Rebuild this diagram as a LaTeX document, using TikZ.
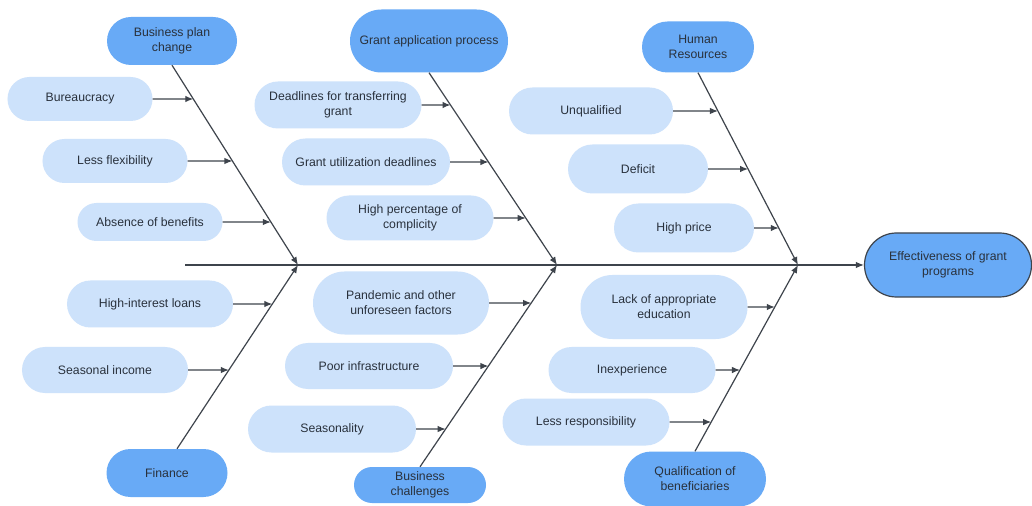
\documentclass[tikz,border=0pt]{standalone}
\usepackage{fontspec}
\setmainfont{Liberation Sans}
\usetikzlibrary{shapes.misc,arrows.meta}
\definecolor{mainblue}{HTML}{68AAF6}
\definecolor{lightblue}{HTML}{CDE2FB}
\definecolor{txt}{HTML}{29313C}
\definecolor{ln}{HTML}{3E444C}
\tikzset{
  pill/.style n args={2}{rounded rectangle, minimum width=#1bp, minimum height=#2bp,
    inner sep=0pt, align=center, text=txt, font=\fontsize{12.3}{15}\selectfont},
  catbox/.style={fill=mainblue},
  causebox/.style={fill=lightblue},
  bone/.style={draw=ln, line width=1.2bp, -{Latex[length=8bp,width=6.5bp]}},
}
\newcommand\twig[3]{\draw[bone] (#1.east) -- (intersection cs: first line={(#1.east)--([xshift=10]#1.east)}, second line={(#2)--(#3)});}
\begin{document}
\begin{tikzpicture}[x=1bp,y=-1bp]
\fill[white] (0,0) rectangle (1032,506);
\useasboundingbox (0,0) rectangle (1032,506);
% categories
\node[pill={130}{48},catbox] (bpc) at (172,41) {Business plan\\change};
\node[pill={158}{63},catbox] (gap) at (429,41) {Grant application process};
\node[pill={112}{51},catbox] (hr) at (698,47) {Human\\Resources};
\node[pill={121}{48},catbox] (fin) at (167,473) {Finance};
\node[pill={132}{36},catbox] (bch) at (420,485) {Business\\challenges};
\node[pill={142}{55},catbox] (qb) at (695,479) {Qualification of\\beneficiaries};
\node[pill={167}{64},catbox,draw=ln,line width=1.2bp] (eff) at (948,265) {Effectiveness of grant\\programs};
% causes
\node[pill={145}{44},causebox] (bur) at (80,99) {Bureaucracy};
\node[pill={145}{44},causebox] (lf) at (115,161) {Less flexibility};
\node[pill={145}{38},causebox] (ab) at (150,222) {Absence of benefits};
\node[pill={166}{47},causebox] (hil) at (150,304) {High-interest loans};
\node[pill={166}{46},causebox] (si) at (105,370) {Seasonal income};
\node[pill={167}{47},causebox] (dft) at (338,105) {Deadlines for transferring\\grant};
\node[pill={168}{47},causebox] (gud) at (366,162) {Grant utilization deadlines};
\node[pill={167}{45},causebox] (hpc) at (410,218) {High percentage of\\complicity};
\node[pill={176}{63},causebox] (pan) at (401,303) {Pandemic and other\\unforeseen factors};
\node[pill={168}{46},causebox] (pi) at (369,366) {Poor infrastructure};
\node[pill={168}{47},causebox] (sea) at (332,429) {Seasonality};
\node[pill={164}{47},causebox] (unq) at (591,111) {Unqualified};
\node[pill={140}{49},causebox] (def) at (638,169) {Deficit};
\node[pill={140}{49},causebox] (hp) at (684,228) {High price};
\node[pill={167}{64},causebox] (lae) at (664,307) {Lack of appropriate\\education};
\node[pill={167}{46},causebox] (inx) at (632,370) {Inexperience};
\node[pill={167}{47},causebox] (lr) at (586,422) {Less responsibility};
% spine
\coordinate (s0) at (185,265);
\coordinate (j1) at (298,265);
\coordinate (j2) at (557,265);
\coordinate (j3) at (798,265);
\coordinate (f0) at ([xshift=10bp]fin.north);
\draw[bone] (s0) -- (eff.west);
% bones
\draw[bone] (bpc.south) -- (j1);
\draw[bone] (f0) -- (j1);
\draw[bone] (gap.south) -- (j2);
\draw[bone] (bch.north) -- (j2);
\draw[bone] (hr.south) -- (j3);
\draw[bone] (qb.north) -- (j3);
% twigs
\twig{bur}{bpc.south}{j1}
\twig{lf}{bpc.south}{j1}
\twig{ab}{bpc.south}{j1}
\twig{hil}{f0}{j1}
\twig{si}{f0}{j1}
\twig{dft}{gap.south}{j2}
\twig{gud}{gap.south}{j2}
\twig{hpc}{gap.south}{j2}
\twig{pan}{bch.north}{j2}
\twig{pi}{bch.north}{j2}
\twig{sea}{bch.north}{j2}
\twig{unq}{hr.south}{j3}
\twig{def}{hr.south}{j3}
\twig{hp}{hr.south}{j3}
\twig{lae}{qb.north}{j3}
\twig{inx}{qb.north}{j3}
\twig{lr}{qb.north}{j3}
\end{tikzpicture}
\end{document}
